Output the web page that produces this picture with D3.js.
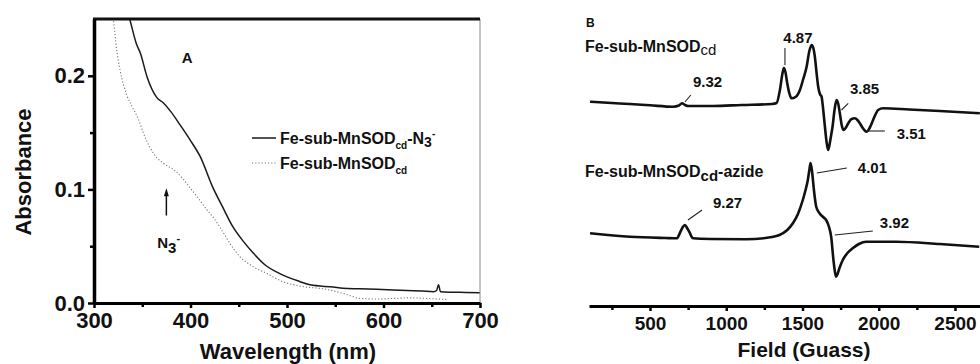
<!DOCTYPE html>
<html>
<head>
<meta charset="utf-8">
<script src="https://cdn.jsdelivr.net/npm/d3@7"></script>
<style>
    body { margin: 0; background: #fff; }
    text { font-family: "Liberation Sans", Arial, sans-serif; font-weight: bold; fill: #111; }
</style>
</head>
<body>
<div id="chart"></div>
<script>
let width = 980, height = 364;

// panel A : UV-vis
let uv_wavelength_azide = [333, 337, 344, 348, 355, 365, 372, 380, 389, 400, 410, 423, 433, 444, 455, 465, 478, 490, 500, 513, 524, 548, 558, 575, 593, 610, 624, 640, 652, 655, 657, 659, 670, 685, 700];
let uv_abs_azide = [0.262, 0.25, 0.228, 0.220, 0.199, 0.181, 0.176, 0.168, 0.157, 0.143, 0.129, 0.102, 0.085, 0.067, 0.054, 0.044, 0.033, 0.027, 0.023, 0.019, 0.016, 0.014, 0.013, 0.0125, 0.012, 0.0115, 0.011, 0.0105, 0.010, 0.011, 0.016, 0.010, 0.0095, 0.0093, 0.009];

let uv_wavelength_free = [318, 320, 323.5, 327, 334, 340, 346, 351, 358, 365, 372, 386, 399, 410, 417, 423, 428, 434, 442, 451, 465, 479, 495, 513, 541, 560, 576, 593, 610, 627, 645, 667];
let uv_abs_free = [0.262, 0.25, 0.223, 0.205, 0.183, 0.172, 0.162, 0.150, 0.137, 0.128, 0.123, 0.115, 0.102, 0.090, 0.082, 0.076, 0.070, 0.062, 0.051, 0.041, 0.032, 0.026, 0.019, 0.015, 0.012, 0.008, 0.004, 0.0035, 0.004, 0.0045, 0.004, 0.003];

let uv_x_ticks = [300, 400, 500, 600, 700];
let uv_y_ticks = [0.0, 0.1, 0.2];

// panel B : EPR, signal in arbitrary units
let epr_field_top = [107, 250, 369, 500, 651, 690, 710, 730, 749, 913, 1100, 1300, 1330, 1352, 1368, 1378, 1388, 1400, 1415, 1428, 1457, 1483, 1505, 1527, 1545, 1560, 1571, 1581, 1593, 1603, 1614, 1625, 1636, 1647, 1658, 1668, 1678, 1687, 1697, 1710, 1723, 1733, 1745, 1757, 1767, 1783, 1800, 1822, 1843, 1860, 1876, 1900, 1920, 1940, 1963, 1980, 1996, 2029, 2200, 2400, 2663];
let epr_signal_top = [0.23, 0.1, 0, -0.13, -0.27, -0.15, 0.07, -0.1, -0.2, -0.2, -0.1, 0, 0.1, 1.4, 3.0, 3.6, 3.2, 2.07, 1.0, 0.57, 0.73, 1.4, 2.5, 3.73, 5.3, 5.9, 5.6, 4.73, 3.0, 1.73, 1.0, 0.73, -0.6, -2.27, -3.8, -4.6, -4.0, -3.2, -2.27, -0.6, 0.4, 0.1, -0.93, -2.1, -2.6, -2.4, -1.93, -1.5, -1.43, -1.6, -1.93, -2.5, -2.77, -2.4, -1.6, -1.0, -0.6, -0.43, -0.55, -0.7, -0.93];

let epr_field_azide = [107, 369, 600, 675, 700, 715, 729, 743, 757, 782, 900, 1131, 1300, 1349, 1400, 1437, 1470, 1502, 1520, 1535, 1545, 1553, 1563, 1575, 1590, 1612, 1635, 1655, 1672, 1688, 1703, 1713, 1720, 1730, 1742, 1764, 1795, 1829, 1870, 1917, 2113, 2400, 2659];
let epr_signal_azide = [0.47, 0.13, 0.0, -0.03, 0.63, 1.1, 1.3, 1.0, 0.63, -0.03, -0.1, -0.13, 0.1, 0.3, 0.8, 1.47, 2.4, 3.8, 4.8, 5.8, 6.8, 7.5, 6.6, 4.8, 3.13, 2.47, 2.1, 1.8, 1.2, 0.13, -2.2, -3.4, -3.87, -3.6, -3.03, -2.2, -1.5, -1.03, -0.6, -0.37, -0.37, -0.6, -0.87];

let epr_offsets = [20.2, 6.8];
let epr_x_ticks = [500, 1000, 1500, 2000, 2500];

// g-value labels: text position and leader line, in field / signal units
let g_labels = ["9.32", "4.87", "3.85", "3.51", "9.27", "4.01", "3.92"];
let g_anchor = ["start", "middle", "start", "start", "start", "start", "start"];
let g_text_pos = [[782, 21.9], [1470, 26.3], [1811, 21.2], [2118, 16.7], [913, 9.8], [1863, 13.3], [2007, 7.8]];
let g_leaders = [[[729, 20.4], [768, 21.1]], [[1385, 24.1], [1385, 25.8]], [[1756, 19.6], [1800, 20.27]],
    [[1922, 17.5], [2040, 17.5]], [[749, 8.6], [841, 9.6]], [[1594, 13.3], [1791, 13.8]], [[1712, 7.1], [1961, 7.5]]];

let margin_A = {left: 94, right: 480, top: 19, bottom: 303};
let margin_B = {left: 589, right: 980, bottom: 306};

let svg = d3.select("#chart").append("svg")
    .attr("width", width)
    .attr("height", height);

draw_panel_A();
draw_panel_B();

function draw_panel_A() {
    let xScale = d3.scaleLinear().domain([300, 700]).range([margin_A.left, margin_A.right]);
    let yScale = d3.scaleLinear().domain([0, 0.25]).range([margin_A.bottom, margin_A.top]);

    svg.append("clipPath").attr("id", "clipA")
        .append("rect")
        .attr("x", xScale(300)).attr("y", yScale(0.25))
        .attr("width", xScale(700) - xScale(300)).attr("height", yScale(0) - yScale(0.25));

    let line = d3.line()
        .x((d) => xScale(d[0]))
        .y((d) => yScale(d[1]))
        .curve(d3.curveMonotoneX);

    let g = svg.append("g").attr("clip-path", "url(#clipA)");
    g.append("path")
        .datum(d3.zip(uv_wavelength_free, uv_abs_free))
        .attr("d", line)
        .attr("fill", "none")
        .attr("stroke", "#777")
        .attr("stroke-width", 1.1)
        .attr("stroke-dasharray", "1.2,2");
    g.append("path")
        .datum(d3.zip(uv_wavelength_azide, uv_abs_azide))
        .attr("d", line)
        .attr("fill", "none")
        .attr("stroke", "#1a1a1a")
        .attr("stroke-width", 1.5);

    // right + top frame
    svg.append("line")
        .attr("x1", xScale(700)).attr("x2", xScale(700))
        .attr("y1", yScale(0.25)).attr("y2", yScale(0))
        .attr("stroke", "#888").attr("stroke-width", 1);
    svg.append("line")
        .attr("x1", xScale(300) - 1).attr("x2", xScale(700))
        .attr("y1", yScale(0.25)).attr("y2", yScale(0.25))
        .attr("stroke", "#111").attr("stroke-width", 3);

    // bottom axis, minor then major
    svg.append("g")
        .attr("transform", "translate(0," + yScale(0) + ")")
        .call(d3.axisBottom(xScale).tickValues([350, 450, 550, 650]).tickSize(4).tickFormat(""))
        .call((a) => a.select(".domain").remove())
        .selectAll("line").attr("stroke-width", 2.5);
    let xAxis = svg.append("g")
        .attr("transform", "translate(0," + yScale(0) + ")")
        .call(d3.axisBottom(xScale).tickValues(uv_x_ticks).tickSizeInner(5).tickSizeOuter(0).tickPadding(4));
    xAxis.select(".domain").attr("stroke-width", 3);
    xAxis.selectAll("line").attr("stroke-width", 2.5);
    xAxis.selectAll("text").style("font-size", "22px").attr("fill", "#111");

    // left axis
    svg.append("g")
        .attr("transform", "translate(" + xScale(300) + ",0)")
        .call(d3.axisLeft(yScale).tickValues([0.05, 0.15]).tickSize(4).tickFormat(""))
        .call((a) => a.select(".domain").remove())
        .selectAll("line").attr("stroke-width", 2.5);
    let yAxis = svg.append("g")
        .attr("transform", "translate(" + xScale(300) + ",0)")
        .call(d3.axisLeft(yScale).tickValues(uv_y_ticks).tickSizeInner(6).tickSizeOuter(0).tickPadding(3)
            .tickFormat(d3.format(".1f")));
    yAxis.select(".domain").attr("stroke-width", 3.5);
    yAxis.selectAll("line").attr("stroke-width", 2.5);
    yAxis.selectAll("text").style("font-size", "22px").attr("fill", "#111");

    svg.append("text")
        .attr("transform", "translate(31,172) rotate(-90)")
        .attr("text-anchor", "middle")
        .style("font-size", "22px")
        .text("Absorbance");
    svg.append("text")
        .attr("x", 288).attr("y", 359)
        .attr("text-anchor", "middle")
        .style("font-size", "22px")
        .text("Wavelength (nm)");

    svg.append("text")
        .attr("x", xScale(391)).attr("y", yScale(0.211))
        .style("font-size", "15px")
        .text("A");

    // N3- marker: arrow shaft and head
    svg.append("line")
        .attr("x1", xScale(375)).attr("x2", xScale(375))
        .attr("y1", yScale(0.077)).attr("y2", yScale(0.097))
        .attr("stroke", "#111").attr("stroke-width", 1.5);
    svg.append("path")
        .attr("d", d3.line()([[xScale(375) - 2.5, yScale(0.094)], [xScale(375), yScale(0.101)], [xScale(375) + 2.5, yScale(0.094)]]) + "Z")
        .attr("fill", "#111");
    let n3 = svg.append("text")
        .attr("x", xScale(365.5)).attr("y", yScale(0.048))
        .style("font-size", "15px");
    n3.append("tspan").text("N");
    n3.append("tspan").attr("dy", 5).text("3");
    n3.append("tspan").attr("dy", -11).style("font-size", "11px").text("-");

    // legend
    let legend = svg.append("g");
    legend.append("line")
        .attr("x1", 252).attr("x2", 276).attr("y1", 138).attr("y2", 138)
        .attr("stroke", "#1a1a1a").attr("stroke-width", 1.5);
    legend.append("line")
        .attr("x1", 252).attr("x2", 276).attr("y1", 163).attr("y2", 163)
        .attr("stroke", "#777").attr("stroke-width", 1.1).attr("stroke-dasharray", "1.2,2");
    let t1 = legend.append("text").attr("x", 280).attr("y", 144).style("font-size", "16px");
    t1.append("tspan").text("Fe-sub-MnSOD");
    t1.append("tspan").attr("dy", 5).style("font-size", "10px").text("cd");
    t1.append("tspan").attr("dy", -5).text("-N");
    t1.append("tspan").attr("dy", 3).style("font-size", "14px").text("3");
    t1.append("tspan").attr("dy", -10).style("font-size", "10px").text("-");
    let t2 = legend.append("text").attr("x", 280).attr("y", 169).style("font-size", "16px");
    t2.append("tspan").text("Fe-sub-MnSOD");
    t2.append("tspan").attr("dy", 5).style("font-size", "10px").text("cd");
}

function draw_panel_B() {
    let xScale = d3.scaleLinear().domain([100, 2664]).range([margin_B.left, margin_B.right]);
    let yScale = d3.scaleLinear().domain([0, 30.6]).range([margin_B.bottom, 0]);

    let line = d3.line()
        .x((d) => xScale(d[0]))
        .y((d) => yScale(d[1]))
        .curve(d3.curveMonotoneX);

    let traces = [
        d3.zip(epr_field_top, epr_signal_top).map((d) => [d[0], d[1] + epr_offsets[0]]),
        d3.zip(epr_field_azide, epr_signal_azide).map((d) => [d[0], d[1] + epr_offsets[1]])
    ];

    svg.append("g").selectAll("path")
        .data(traces)
        .join("path")
        .attr("d", line)
        .attr("fill", "none")
        .attr("stroke", "#111")
        .attr("stroke-width", 2.6)
        .attr("stroke-linejoin", "round");

    svg.append("g").selectAll("line")
        .data(g_leaders)
        .join("line")
        .attr("x1", (d) => xScale(d[0][0])).attr("y1", (d) => yScale(d[0][1]))
        .attr("x2", (d) => xScale(d[1][0])).attr("y2", (d) => yScale(d[1][1]))
        .attr("stroke", "#222").attr("stroke-width", 1.1);

    svg.append("g").selectAll("text")
        .data(g_labels)
        .join("text")
        .attr("x", (d, i) => xScale(g_text_pos[i][0]))
        .attr("y", (d, i) => yScale(g_text_pos[i][1]))
        .attr("text-anchor", (d, i) => g_anchor[i])
        .style("font-size", "15px")
        .text((d) => d);

    svg.append("g")
        .attr("transform", "translate(0," + margin_B.bottom + ")")
        .call(d3.axisBottom(xScale).tickValues([250, 750, 1250, 1750, 2250]).tickSize(4).tickFormat(""))
        .call((a) => a.select(".domain").remove())
        .selectAll("line").attr("stroke-width", 2.5);
    let xAxis = svg.append("g")
        .attr("transform", "translate(0," + margin_B.bottom + ")")
        .call(d3.axisBottom(xScale).tickValues(epr_x_ticks).tickSizeInner(5).tickSizeOuter(0).tickPadding(6)
            .tickFormat(d3.format("d")));
    xAxis.select(".domain").attr("stroke-width", 3);
    xAxis.selectAll("line").attr("stroke-width", 2.5);
    xAxis.selectAll("text").style("font-size", "19px").attr("fill", "#111");

    svg.append("text")
        .attr("x", 804).attr("y", 357)
        .attr("text-anchor", "middle")
        .style("font-size", "21px")
        .text("Field (Guass)");

    svg.append("text").attr("x", 586).attr("y", 27).style("font-size", "12px").text("B");

    let s1 = svg.append("text").attr("x", 585).attr("y", 52).style("font-size", "16px");
    s1.append("tspan").text("Fe-sub-MnSOD");
    s1.append("tspan").attr("dy", 3).style("font-size", "15px").style("font-weight", "normal").text("cd");

    let s2 = svg.append("text").attr("x", 585).attr("y", 177).style("font-size", "16px");
    s2.append("tspan").text("Fe-sub-MnSOD");
    s2.append("tspan").attr("dy", 4).style("font-size", "15px").text("cd");
    s2.append("tspan").attr("dy", -4).text("-azide");
}
</script>
</body>
</html>
